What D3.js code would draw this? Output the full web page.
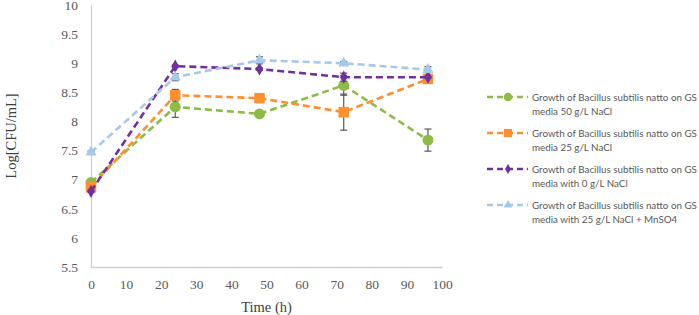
<!DOCTYPE html>
<html>
<head>
<meta charset="utf-8">
<script src="https://cdn.jsdelivr.net/npm/d3@7"></script>
<style>
  body { margin: 0; background: #fff; }
  svg { display: block; }
</style>
</head>
<body>
<div id="chart"></div>
<script>
// time points (h)
const hours = [0, 24, 48, 72, 96]

// Log[CFU/mL] per series
const nacl50 = [6.95, 8.25, 8.13, 8.62, 7.68]
const nacl25 = [6.87, 8.45, 8.40, 8.16, 8.73]
const nacl0 = [6.80, 8.95, 8.90, 8.76, 8.76]
const nacl25Mn = [7.47, 8.76, 9.05, 9.00, 8.89]

// error bar half widths
const err50 = [0.03, 0.18, 0.02, 0.17, 0.19]
const err25 = [0.03, 0.1, 0.02, 0.31, 0.07]
const err0 = [0.02, 0.02, 0.02, 0.07, 0.02]
const err25Mn = [0.02, 0.06, 0.06, 0.03, 0.05]

const seriesNames = [
  ['Growth of Bacillus subtilis natto on GS', 'media 50 g/L NaCl'],
  ['Growth of Bacillus subtilis natto on GS', 'media 25 g/L NaCl'],
  ['Growth of Bacillus subtilis natto on GS', 'media with 0 g/L NaCl'],
  ['Growth of Bacillus subtilis natto on GS', 'media with 25 g/L NaCl + MnSO4'],
]

const xTicks = [0, 10, 20, 30, 40, 50, 60, 70, 80, 90, 100]
const yTicks = [5.5, 6, 6.5, 7, 7.5, 8, 8.5, 9, 9.5, 10]

const series = [
  { name: seriesNames[0], vals: nacl50, err: err50, color: '#8DBB47', shape: d3.symbolCircle, size: 95 },
  { name: seriesNames[1], vals: nacl25, err: err25, color: '#FF8F2F', shape: d3.symbolSquare, size: 110 },
  { name: seriesNames[2], vals: nacl0, err: err0, color: '#7030A0', shape: d3.symbolDiamond, size: 50 },
  { name: seriesNames[3], vals: nacl25Mn, err: err25Mn, color: '#A6C8EA', shape: d3.symbolTriangle, size: 55 },
]

let svgWidth = 699,
  svgHeight = 315
let margin = { top: 5, left: 91 }
let width = 351,
  height = 262

let svg = d3
  .select('#chart')
  .append('svg')
  .attr('width', svgWidth)
  .attr('height', svgHeight)

let g = svg.append('g').attr('transform', 'translate(' + margin.left + ',' + margin.top + ')')

let x = d3.scaleLinear().domain([0, 100]).range([0, width])
let y = d3.scaleLinear().domain([5.5, 10]).range([height, 0])

// Axes
let xAxis = g
  .append('g')
  .attr('transform', 'translate(0,' + height + ')')
  .call(d3.axisBottom(x).tickValues(xTicks).tickSize(0).tickPadding(12))
xAxis.select('.domain').attr('stroke', '#d0d0d0').attr('stroke-width', 1.3)

let yAxis = g
  .append('g')
  .call(d3.axisLeft(y).tickValues(yTicks).tickFormat((d) => d).tickSize(0).tickPadding(13))
yAxis.select('.domain').attr('stroke', '#d0d0d0').attr('stroke-width', 1.3)

;[xAxis, yAxis].forEach((a) => {
  a.attr('font-family', '"Liberation Serif", serif').attr('font-size', 13.5)
  a.selectAll('.tick text').attr('fill', '#595959')
})

svg
  .append('text')
  .attr('transform', 'translate(16,' + (margin.top + height / 2) + ') rotate(-90)')
  .attr('text-anchor', 'middle')
  .attr('fill', '#404040')
  .style('font-family', '"Liberation Serif", serif')
  .style('font-size', '14.5px')
  .text('Log[CFU/mL]')

svg
  .append('text')
  .attr('x', margin.left + width / 2)
  .attr('y', 312)
  .attr('text-anchor', 'middle')
  .attr('fill', '#404040')
  .style('font-family', '"Liberation Serif", serif')
  .style('font-size', '14.5px')
  .text('Time (h)')

// Lines, error bars, markers
series.forEach((s) => {
  let pts = hours.map((h, i) => ({ h: h, v: s.vals[i], e: s.err[i] }))

  g.append('path')
    .datum(pts)
    .attr(
      'd',
      d3
        .line()
        .x((d) => x(d.h))
        .y((d) => y(d.v))
    )
    .attr('fill', 'none')
    .attr('stroke', s.color)
    .attr('stroke-width', 2.6)
    .attr('stroke-dasharray', '7,4')

  let eb = g.append('g').attr('stroke', '#595959').attr('stroke-width', 1.2)
  pts.forEach((d) => {
    eb.append('line').attr('x1', x(d.h)).attr('x2', x(d.h)).attr('y1', y(d.v - d.e)).attr('y2', y(d.v + d.e))
    ;[d.v - d.e, d.v + d.e].forEach((v) => {
      eb.append('line').attr('x1', x(d.h) - 3.5).attr('x2', x(d.h) + 3.5).attr('y1', y(v)).attr('y2', y(v))
    })
  })

  g.selectAll(null)
    .data(pts)
    .enter()
    .append('path')
    .attr('d', d3.symbol().type(s.shape).size(s.size))
    .attr('transform', (d) => 'translate(' + x(d.h) + ',' + y(d.v) + ')')
    .attr('fill', s.color)
})

// Legend
let legend = svg.append('g').attr('transform', 'translate(487,97)')
series.forEach((s, i) => {
  let row = legend.append('g').attr('transform', 'translate(0,' + i * 36 + ')')
  row
    .append('line')
    .attr('x1', 0)
    .attr('x2', 41)
    .attr('y1', 0)
    .attr('y2', 0)
    .attr('stroke', s.color)
    .attr('stroke-width', 2.6)
    .attr('stroke-dasharray', '6,4')
  row
    .append('path')
    .attr('d', d3.symbol().type(s.shape).size(s.size * 0.6))
    .attr('transform', 'translate(21,0)')
    .attr('fill', s.color)
  let t = row
    .append('text')
    .attr('x', 45)
    .attr('y', 4)
    .attr('fill', '#595959')
    .style('font-family', 'Lato, sans-serif')
    .style('font-size', '11px')
  s.name.forEach((line, j) => {
    t.append('tspan')
      .attr('x', 45)
      .attr('dy', j == 0 ? 0 : 14)
      .text(line)
  })
  // keep the first line inside the window
  let w = t.node().getBBox().width
  if (w > 165) t.style('font-size', (11 * 165) / w + 'px')
})
</script>
</body>
</html>
